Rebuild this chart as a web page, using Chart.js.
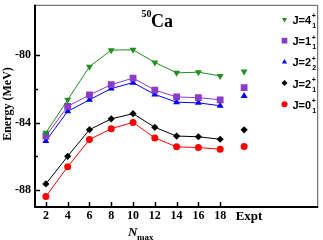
<!DOCTYPE html>
<html>
<head>
<meta charset="utf-8">
<script src="https://cdn.jsdelivr.net/npm/chart.js@4.4.1/dist/chart.umd.min.js"></script>
<style>
  html, body { margin: 0; padding: 0; background: #fff; }
</style>
</head>
<body>
<canvas id="chart" width="323" height="240"></canvas>
<script>
// N_max values on the x axis
const nmax = [2, 4, 6, 8, 10, 12, 14, 16, 18];
const yTicks = [-88, -84, -80];
const yMinorTicks = [-86, -82];

// calculated energies (MeV)
const j41 = [-84.6, -82.64, -80.67, -79.69, -79.67, -80.42, -81.04, -81.0, -81.22];
const j11 = [-84.8, -83.03, -82.35, -81.74, -81.35, -82.06, -82.47, -82.51, -82.64];
const j22 = [-85.08, -83.32, -82.64, -81.97, -81.62, -82.32, -82.78, -82.82, -82.99];
const j21 = [-87.63, -85.99, -84.41, -83.77, -83.46, -84.27, -84.79, -84.83, -84.98];
const j01 = [-88.38, -86.61, -85.0, -84.35, -83.98, -84.9, -85.43, -85.47, -85.57];

// experimental values, same order as the series above
const exptLabels = ['4', '1', '2', '2', '0'];
const exptSubs = ['1', '1', '2', '1', '1'];
const exptValues = [-80.96, -81.91, -82.41, -84.42, -85.41];

const EXPT_X = 20.2;
const SERIF = '"Liberation Serif", "DejaVu Serif", serif';
const SANS = '"Liberation Sans", Arial, sans-serif';

const series = [
  { data: j41, color: '#1f8f1f', style: 'triangle', rot: 180, r: 4 },
  { data: j11, color: '#8a3cc8', style: 'rect', rot: 0, r: 4.8 },
  { data: j22, color: '#0000ff', style: 'triangle', rot: 0, r: 4 },
  { data: j21, color: '#000000', style: 'rectRot', rot: 0, r: 3.6 },
  { data: j01, color: '#ff0000', style: 'circle', rot: 0, r: 3.5 }
];

const datasets = [];
series.forEach(function(s, i) {
  datasets.push({
    data: nmax.map((n, k) => ({ x: n, y: s.data[k] })),
    borderColor: s.color,
    backgroundColor: s.color,
    borderWidth: 1,
    pointStyle: s.style,
    pointRotation: s.rot,
    pointRadius: s.r,
    pointBorderWidth: 0,
    showLine: true
  });
  datasets.push({
    data: [{ x: EXPT_X, y: exptValues[i] }],
    borderColor: s.color,
    backgroundColor: s.color,
    pointStyle: s.style,
    pointRotation: s.rot,
    pointRadius: s.r,
    pointBorderWidth: 0,
    showLine: false
  });
});

// small marker drawer for the legend
function marker(ctx, s, x, y, r) {
  ctx.beginPath();
  if (s.style === 'circle') {
    ctx.arc(x, y, r, 0, Math.PI * 2);
  } else if (s.style === 'rect') {
    const h = r * Math.SQRT1_2;
    ctx.rect(x - h, y - h, 2 * h, 2 * h);
  } else if (s.style === 'rectRot') {
    ctx.moveTo(x, y - r); ctx.lineTo(x + r, y); ctx.lineTo(x, y + r); ctx.lineTo(x - r, y);
  } else {
    const d = s.rot === 180 ? -1 : 1;
    const hw = r * Math.sin(Math.PI / 3);
    ctx.moveTo(x, y - d * r);
    ctx.lineTo(x + hw, y + d * r / 2);
    ctx.lineTo(x - hw, y + d * r / 2);
  }
  ctx.closePath();
  ctx.fill();
}

const decor = {
  id: 'decor',
  afterDraw(chart) {
    const ctx = chart.ctx;
    const a = chart.chartArea;
    const xs = chart.scales.x, ys = chart.scales.y;
    ctx.save();

    // frame
    ctx.strokeStyle = '#555';
    ctx.lineWidth = 1;
    ctx.beginPath();
    ctx.moveTo(a.left, a.top + 0.5); ctx.lineTo(a.right - 0.5, a.top + 0.5);
    ctx.lineTo(a.right - 0.5, a.bottom);
    ctx.stroke();
    ctx.strokeStyle = '#000';
    ctx.lineWidth = 2;
    ctx.beginPath();
    ctx.moveTo(a.left, a.top); ctx.lineTo(a.left, a.bottom); ctx.lineTo(a.right, a.bottom);
    ctx.stroke();

    // inward tick marks
    ctx.lineWidth = 1.5;
    ctx.beginPath();
    nmax.forEach(n => {
      const px = Math.round(xs.getPixelForValue(n)) + 0.5;
      ctx.moveTo(px, a.bottom); ctx.lineTo(px, a.bottom - 5);
    });
    yTicks.forEach(v => {
      const py = Math.round(ys.getPixelForValue(v)) + 0.5;
      ctx.moveTo(a.left, py); ctx.lineTo(a.left + 5, py);
    });
    yMinorTicks.forEach(v => {
      const py = Math.round(ys.getPixelForValue(v)) + 0.5;
      ctx.moveTo(a.left, py); ctx.lineTo(a.left + 3, py);
    });
    ctx.stroke();

    ctx.fillStyle = '#000';
    // Expt label
    ctx.font = 'bold 13px ' + SERIF;
    ctx.textAlign = 'center';
    ctx.textBaseline = 'middle';
    ctx.fillText('Expt', 249, a.bottom + 10);

    // x axis title
    ctx.textAlign = 'left';
    ctx.textBaseline = 'alphabetic';
    ctx.font = 'italic bold 13px ' + SERIF;
    ctx.fillText('N', 128, 236);
    ctx.font = 'bold 9px ' + SERIF;
    ctx.fillText('max', 137, 240);

    // y axis title
    ctx.save();
    ctx.textBaseline = 'middle';
    ctx.translate(8, 104);
    ctx.rotate(-Math.PI / 2);
    ctx.textAlign = 'center';
    ctx.font = 'bold 12px ' + SERIF;
    ctx.fillText('Energy (MeV)', 0, 0);
    ctx.restore();

    // nucleus label
    ctx.textAlign = 'left';
    ctx.textBaseline = 'alphabetic';
    ctx.font = 'bold 10px ' + SERIF;
    ctx.fillText('50', 141.5, 17);
    ctx.font = 'bold 18px ' + SERIF;
    ctx.fillText('Ca', 151, 27);

    // legend
    ctx.textBaseline = 'middle';
    series.forEach(function(s, i) {
      const y = 19.5 + i * 21.2;
      ctx.fillStyle = s.color;
      marker(ctx, s, 284.5, y, s.style === 'rect' ? 4 : 3);
      ctx.fillStyle = '#000';
      ctx.textAlign = 'left';
      ctx.font = 'bold 11px ' + SANS;
      const t = 'J=' + exptLabels[i];
      ctx.fillText(t, 292.5, y + 1.5);
      const w = ctx.measureText(t).width;
      ctx.font = 'bold 7px ' + SANS;
      ctx.fillText('+', 292.5 + w + 0.5, y - 3);
      ctx.fillText(exptSubs[i], 292.5 + w + 1, y + 6.5);
    });
    ctx.restore();
  }
};

new Chart(document.getElementById('chart'), {
  type: 'scatter',
  data: { datasets: datasets },
  plugins: [decor],
  options: {
    responsive: false,
    devicePixelRatio: 1,
    animation: false,
    layout: { padding: { left: 0, top: -1, right: 1, bottom: 0 } },
    plugins: { legend: { display: false }, tooltip: { enabled: false } },
    scales: {
      x: {
        type: 'linear', min: 1, max: 27,
        afterBuildTicks: s => { s.ticks = nmax.map(v => ({ value: v })); },
        afterFit: s => { s.height = 33; s.paddingLeft = 0; s.paddingRight = 0; },
        grid: { display: false, drawTicks: false },
        border: { display: false },
        ticks: { color: '#000', padding: 2, maxRotation: 0, font: { family: SERIF, size: 12, weight: 'bold' } }
      },
      y: {
        type: 'linear', min: -89, max: -77,
        afterBuildTicks: s => { s.ticks = yTicks.map(v => ({ value: v })); },
        afterFit: s => { s.width = 35; s.paddingTop = 0; s.paddingBottom = 0; },
        grid: { display: false, drawTicks: false },
        border: { display: false },
        ticks: { color: '#000', padding: 4, font: { family: SERIF, size: 12, weight: 'bold' } }
      }
    }
  }
});
</script>
</body>
</html>
